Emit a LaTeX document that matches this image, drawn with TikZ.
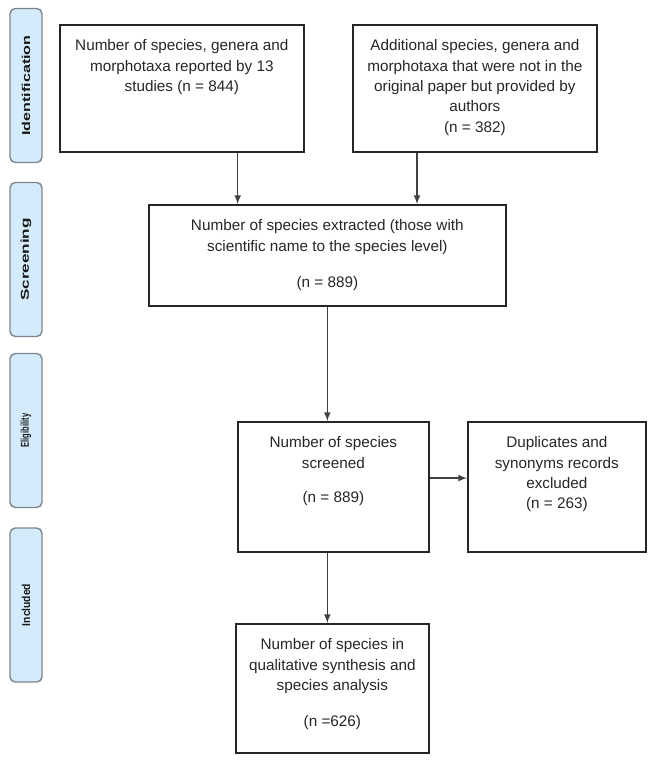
\documentclass[tikz,border=0pt]{standalone}
\usepackage{fontspec}
\setmainfont{Liberation Sans}
\usepackage{graphicx}
\usepackage{xcolor}
\usetikzlibrary{calc}
\tikzset{>=latex}
\definecolor{tabblue}{HTML}{D4EBFB}
\definecolor{tabedge}{HTML}{7D868E}
\newcommand{\boxtext}[3]{\parbox[t][#2][t]{#1}{\centering\vspace*{6.6pt}\strut #3}}
\newcommand{\tabtext}[2]{\scalebox{#1}[1]{#2}}

\begin{document}
\begin{tikzpicture}[x=0.02cm, y=-0.02cm,
    box/.style={draw=black!85, line width=1pt, inner sep=0pt, anchor=north west,
      font=\fontsize{8.7}{11.6}\selectfont, text=black!85},
    tab/.style={draw=tabedge, fill=tabblue, line width=0.8pt, rounded corners=3pt,
      rotate=90, minimum width=3.08cm, minimum height=0.64cm, inner sep=0pt,
      font=\fontsize{6.5}{7}\selectfont\bfseries, text=black!90},
    arrow/.style={->, draw=black!75, line width=0.7pt}]
        \useasboundingbox (0,0) rectangle (653,761);

        % Stage tabs
        \node[tab] (tabid)  at (26,85.5)  {\tabtext{1.41}{Identification}};
        \node[tab] (tabscr) at (26,259.5) {\tabtext{1.5}{Screening}};
        \node[tab] (tabeli) at (26,430.5) {\tabtext{0.66}{Eligibility}};
        \node[tab] (tabinc) at (26,605)   {\tabtext{0.9}{Included}};

        % Boxes
        \node[box] (id1) at (59,24) {\boxtext{4.88cm}{2.54cm}{Number of species, genera and\\
          morphotaxa reported by 13\\ studies (n = 844)}};
        \node[box] (id2) at (352,24) {\boxtext{4.88cm}{2.54cm}{Additional species, genera and\\
          morphotaxa that were not in the\\ original paper but provided by\\ authors\\ (n = 382)}};
        \node[box] (extracted) at (148,204) {\boxtext{7.14cm}{2.02cm}{Number of species extracted (those with\\
          scientific name to the species level)\\[9.3pt] (n = 889)}};
        \node[box] (screened) at (237,421) {\boxtext{3.82cm}{2.6cm}{Number of species\\ screened\\[8.2pt] (n = 889)}};
        \node[box] (duplicates) at (467,421) {\boxtext{3.56cm}{2.6cm}{Duplicates and\\ synonyms records\\ excluded\\ (n = 263)}};
        \node[box] (included) at (235,623) {\boxtext{3.86cm}{2.58cm}{Number of species in\\
          qualitative synthesis and\\ species analysis\\[8.8pt] (n =626)}};

        % Arrows
        \coordinate (in1) at ($(extracted.north west)!0.25!(extracted.north east)$);
        \coordinate (in2) at ($(extracted.north west)!0.75!(extracted.north east)$);
        \draw[arrow] (in1 |- id1.south) -- (in1);
        \draw[arrow] (in2 |- id2.south) -- (in2);
        \draw[arrow] (extracted.south) -- (extracted.south |- screened.north);
        \draw[arrow] ([yshift=5pt]screened.east) -- ([yshift=5pt]duplicates.west);
        \draw[arrow] (extracted.south |- screened.south) -- (extracted.south |- included.north);

      \end{tikzpicture}
\end{document}
